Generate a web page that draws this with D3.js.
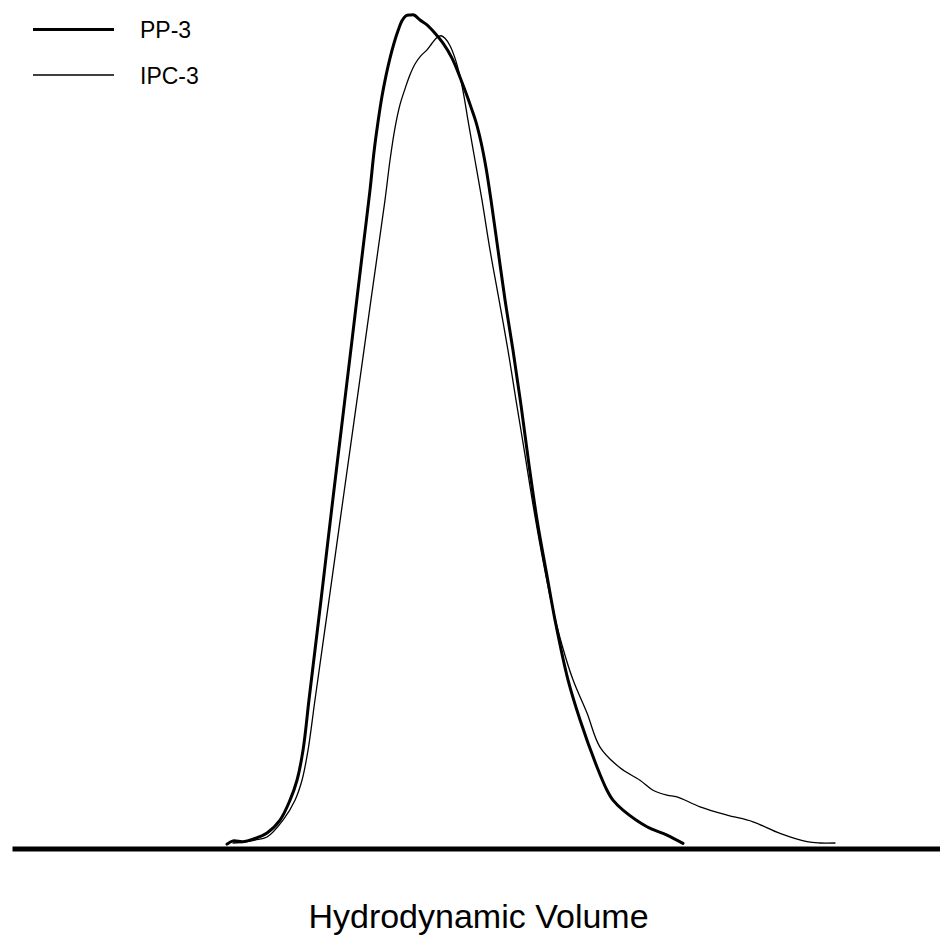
<!DOCTYPE html>
<html>
<head>
<meta charset="utf-8">
<script src="https://cdn.jsdelivr.net/npm/d3@7"></script>
<style>
  html, body { margin: 0; padding: 0; background: #fff; }
  svg { display: block; }
  text { font-family: "Liberation Sans", Arial, sans-serif; fill: #000; }
</style>
</head>
<body>
<svg id="chart" width="940" height="940"></svg>
<script>
// Elution position (arbitrary units) for each trace
const ppX = [21.5, 22.1, 23.1, 24.1, 25.5, 26.8, 27.8, 28.5, 29.1, 29.7, 30.3, 30.9, 31.6, 32.2, 32.8, 33.4, 34.0, 34.6, 35.2, 35.8, 36.2, 36.6, 37.0, 37.4, 37.8, 38.2, 38.6, 39.0, 39.4, 39.8, 40.2, 40.8, 41.5, 42.3, 43.1, 44.0, 44.8, 45.4, 45.9, 46.4, 46.9, 47.4, 47.9, 48.6, 49.3, 50.1, 50.9, 51.7, 52.5, 53.4, 54.4, 55.6, 56.8, 58.5, 59.5, 60.1, 61.1, 63.5, 65.5, 67.1];
// Normalised detector response (%)
const ppY = [0.1, 0.5, 0.4, 0.7, 1.45, 3.0, 5.4, 7.8, 11.4, 17.5, 23.5, 29.5, 36.7, 42.8, 48.8, 54.8, 60.8, 66.9, 72.9, 78.9, 83.5, 87.1, 90.2, 92.7, 94.8, 96.6, 98.1, 99.3, 99.9, 100, 100, 99.4, 98.8, 97.8, 96.6, 94.8, 92.5, 90.6, 88.9, 87.1, 84.7, 81.6, 77.7, 71.7, 65.7, 59.6, 53.0, 45.8, 39.2, 33.1, 26.5, 19.9, 15.1, 9.4, 6.6, 5.4, 4.2, 2.2, 1.2, 0.2];

const ipcX = [22.1, 23.3, 24.3, 25.5, 27.1, 28.3, 29.0, 29.6, 30.3, 31.7, 33.1, 34.5, 35.9, 37.3, 37.8, 38.3, 38.8, 39.3, 39.8, 40.3, 40.9, 41.5, 42.0, 42.5, 42.9, 43.3, 43.8, 44.3, 44.8, 45.2, 45.6, 46.3, 47.0, 47.8, 48.7, 49.6, 50.4, 51.3, 52.1, 53.0, 54.0, 55.0, 56.1, 57.5, 58.8, 60.8, 62.8, 64.1, 65.5, 66.5, 68.8, 71.5, 74.1, 76.8, 79.5, 80.8, 82.3];
const ipcY = [0.24, 0.36, 0.6, 0.96, 3.0, 5.4, 7.8, 11.4, 17.5, 29.5, 41.6, 53.6, 65.7, 77.7, 82.5, 86.4, 89.2, 91.1, 92.8, 94.1, 95.1, 95.8, 96.6, 97.3, 97.5, 97.2, 96.3, 94.8, 92.6, 90.2, 87.3, 82.5, 77.7, 71.7, 65.7, 59.6, 53.6, 47.0, 41.0, 34.9, 28.9, 24.1, 19.9, 15.9, 11.8, 9.3, 7.8, 6.6, 6.0, 5.8, 4.6, 3.6, 2.8, 1.4, 0.4, 0.24, 0.24];

const seriesNames = ["PP-3", "IPC-3"];
const axisTitle = "Hydrodynamic Volume";

const series = [
  { name: seriesNames[0], xs: ppX, ys: ppY, width: 3 },
  { name: seriesNames[1], xs: ipcX, ys: ipcY, width: 1.3 }
];

const svg = d3.select("#chart");

const x = d3.scaleLinear().domain([0, 92.8]).range([12, 940]);
const y = d3.scaleLinear().domain([0, 100]).range([845, 15]);

const line = d3.line()
  .x(d => x(d[0]))
  .y(d => y(d[1]))
  .curve(d3.curveCatmullRom.alpha(0.5));

svg.selectAll("path.trace")
  .data(series)
  .join("path")
  .attr("class", "trace")
  .attr("fill", "none")
  .attr("stroke", "#000")
  .attr("stroke-width", d => d.width)
  .attr("stroke-linejoin", "round")
  .attr("stroke-linecap", "round")
  .attr("d", d => line(d.xs.map((v, i) => [v, d.ys[i]])));

// Baseline axis
const xAxis = d3.axisBottom(x).tickValues([]).tickSizeOuter(0);
const axisG = svg.append("g").attr("transform", "translate(0,848.5)").call(xAxis);
axisG.select(".domain").attr("stroke", "#000").attr("stroke-width", 5);

svg.append("text")
  .attr("x", 478.5)
  .attr("y", 928)
  .attr("text-anchor", "middle")
  .style("font-size", "34px")
  .text(axisTitle);

// Legend
const legend = svg.append("g");
const legendRows = [29.5, 75];
series.forEach((s, i) => {
  legend.append("line")
    .attr("x1", 33).attr("x2", 114)
    .attr("y1", legendRows[i]).attr("y2", legendRows[i])
    .attr("stroke", "#000")
    .attr("stroke-width", s.width);
  legend.append("text")
    .attr("x", 140)
    .attr("y", legendRows[i] + 8.5)
    .style("font-size", "23px")
    .text(s.name);
});
</script>
</body>
</html>
